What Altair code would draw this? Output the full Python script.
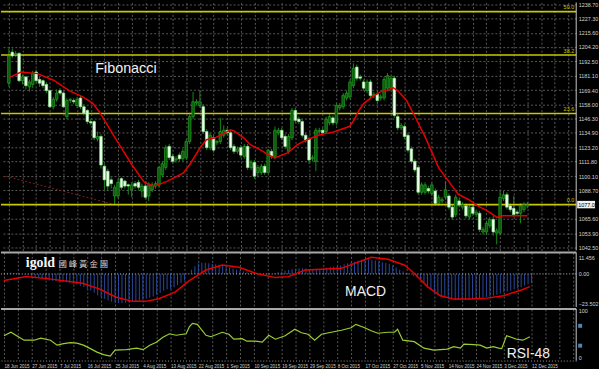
import altair as alt
import pandas as pd

# ---------------- data ----------------
bar_open = [1175,1200,1198,1199,1177,1180,1172,1174,1184,1178,
            1177,1174,1169,1156,1162,1169,1167,1148,1161,1161,
            1157,1163,1156,1153,1144,1144,1130,1132,1108,1104,
            1097,1084,1084,1098,1096,1093,1089,1094,1095,1088,
            1092,1084,1089,1092,1093,1101,1107,1124,1116,1113,
            1117,1114,1115,1128,1148,1159,1157,1156,1136,1123,
            1131,1127,1128,1133,1137,1135,1124,1120,1123,1116,
            1124,1107,1111,1103,1103,1108,1103,1120,1116,1135,
            1137,1132,1120,1131,1153,1146,1144,1133,1130,1114,
            1112,1136,1137,1136,1143,1147,1143,1155,1156,1163,
            1164,1173,1188,1180,1176,1169,1176,1165,1166,1163,
            1163,1171,1171,1179,1148,1139,1140,1133,1122,1112,
            1107,1087,1087,1090,1086,1088,1078,1080,1083,1084,
            1075,1069,1080,1075,1076,1067,1075,1069,1070,1055,
            1055,1060,1065,1054,1054,1082,1085,1076,1074,1071,
            1070,1073,1076]
bar_high = [1203,1203,1201,1200,1182,1181,1178,1185,1186,1180,
            1178,1176,1170,1164,1170,1171,1168,1163,1163,1163,
            1164,1165,1158,1154,1146,1145,1136,1134,1110,1106,
            1099,1093,1098,1099,1097,1094,1095,1096,1097,1094,
            1096,1095,1095,1096,1108,1112,1125,1126,1118,1116,
            1119,1122,1130,1150,1168,1162,1169,1158,1138,1135,
            1133,1129,1147,1141,1139,1137,1126,1124,1125,1126,
            1126,1113,1113,1109,1110,1110,1122,1122,1140,1139,
            1139,1134,1134,1155,1155,1148,1146,1135,1132,1117,
            1139,1139,1139,1148,1150,1149,1159,1159,1167,1169,
            1178,1191,1190,1182,1178,1178,1178,1168,1168,1166,
            1180,1183,1181,1181,1150,1143,1142,1135,1124,1114,
            1109,1095,1095,1092,1095,1090,1085,1083,1096,1086,
            1077,1085,1082,1079,1078,1077,1077,1073,1072,1059,
            1064,1067,1068,1058,1088,1088,1087,1078,1084,1073,
            1078,1079,1079]
bar_low = [1172,1195,1196,1176,1174,1170,1168,1171,1175,1172,
           1171,1167,1155,1154,1160,1165,1155,1146,1159,1158,
           1155,1154,1149,1142,1141,1129,1128,1106,1089,1088,
           1090,1077,1082,1089,1090,1085,1083,1090,1089,1083,
           1081,1080,1087,1090,1091,1099,1105,1113,1110,1111,
           1112,1112,1113,1126,1146,1157,1155,1134,1121,1121,
           1119,1125,1126,1131,1133,1121,1118,1118,1115,1114,
           1105,1105,1098,1099,1101,1101,1102,1114,1114,1133,
           1129,1122,1118,1129,1143,1142,1131,1127,1110,1112,
           1104,1134,1133,1134,1141,1141,1141,1153,1154,1161,
           1162,1171,1177,1177,1169,1167,1163,1163,1159,1161,
           1161,1169,1169,1147,1137,1137,1130,1119,1110,1103,
           1085,1085,1085,1086,1084,1076,1076,1078,1081,1073,
           1065,1067,1075,1073,1066,1065,1068,1067,1055,1053,
           1053,1058,1052,1045,1052,1080,1073,1071,1067,1068,
           1062,1071,1074]
bar_close = [1197,1197,1199,1177,1180,1173,1176,1183,1177,1175,
             1173,1169,1156,1162,1167,1167,1156,1161,1162,1160,
             1162,1156,1151,1144,1143,1131,1132,1109,1097,1092,
             1094,1091,1095,1091,1092,1092,1093,1092,1091,1092,
             1083,1093,1093,1094,1107,1110,1123,1115,1112,1114,
             1114,1120,1128,1148,1160,1160,1160,1136,1123,1133,
             1121,1128,1136,1137,1135,1123,1120,1122,1117,1124,
             1107,1111,1100,1107,1108,1103,1121,1116,1137,1137,
             1131,1124,1132,1153,1145,1144,1133,1129,1113,1115,
             1137,1137,1135,1146,1148,1143,1157,1157,1165,1167,
             1176,1187,1179,1179,1171,1176,1165,1166,1161,1164,
             1178,1181,1179,1149,1139,1141,1132,1121,1112,1105,
             1087,1093,1093,1088,1093,1078,1083,1081,1089,1075,
             1067,1083,1077,1077,1068,1075,1070,1071,1057,1057,
             1062,1065,1055,1056,1083,1085,1075,1073,1069,1070,
             1076,1077,1077]

ma_bar = [0, 3.6, 8.4, 13.1, 17.9, 21.7, 24.6, 26.5, 31.2, 36, 39.8, 42.7, 46.5,
          51.2, 53.1, 56, 57.9, 60.3, 63.1, 65, 66, 68.9, 70.8, 73.6, 76, 77.9,
          81.7, 84.6, 87.4, 91.2, 95, 97.9, 99.8, 101.2, 102.7, 104.1, 106.5,
          108.9, 110.8, 112.7, 114.1, 116.5, 119.3, 122.2, 126, 128.9, 131.7,
          134.6, 137.4, 140.3, 143.1, 144.6, 152]
ma_val = [1179.5, 1184, 1182.7, 1177.4, 1168.6, 1164, 1158.7, 1152, 1130.7, 1109.4,
          1094.7, 1092, 1096, 1102.7, 1109.6, 1122.7, 1129.4, 1130.7, 1134.7, 1137.4,
          1136.5, 1130.7, 1125.4, 1121.4, 1117.4, 1114.7, 1118.7, 1125.4, 1129.4,
          1133.4, 1135.5, 1138.2, 1140, 1145.4, 1153.4, 1158.7, 1164, 1168, 1169.4,
          1171.3, 1168.6, 1161.4, 1146.7, 1130.7, 1106.7, 1096, 1085.4, 1081.4, 1076,
          1072, 1066.7, 1068, 1068]

trend_bar = [-0.86, 31.0]
trend_val = [1100.0, 1077.0]

fib_names = ["50.0", "38.2", "23.6", "0.0"]
fib_prices = [1232.7, 1197.7, 1150.5, 1077.0]

price_ticks = [1238.70, 1227.30, 1215.60, 1204.20, 1192.50, 1181.10, 1169.40, 1158.00,
               1146.30, 1134.90, 1123.20, 1111.80, 1100.10, 1088.70, 1065.60, 1053.90, 1042.50]
cur_price = 1077.05

macd_hist = [0.5, 0.7, 0.9, 0.6, 0.3, 0.0, -0.4, -0.9, -1.8, -2.2,
             -2.8, -3.3, -4.0, -4.7, -4.9, -5.1, -5.4, -5.7, -5.9, -6.3,
             -6.9, -7.6, -8.5, -9.4, -10.5, -11.8, -13.4, -15.2, -16.5, -17.7,
             -18.8, -19.8, -20.4, -20.7, -20.7, -20.5, -20.3, -20.0, -19.5, -19.0,
             -18.3, -17.6, -17.0, -16.0, -14.8, -13.5, -12.0, -11.0, -10.6, -9.5,
             -8.0, -6.5, -4.7, 0.5, 3.0, 5.5, 7.5, 8.0, 8.0, 7.6,
             7.2, 6.8, 6.5, 6.2, 5.5, 4.6, 3.8, 3.0, 2.4, 1.8,
             1.2, 0.8, 0.5, 0.3, 0.2, 0.0, 0.2, 0.0, 0.6, 1.2,
             1.8, 2.4, 2.8, 3.4, 3.8, 4.0, 4.0, 3.9, 3.5, 3.1,
             3.2, 3.3, 3.8, 4.4, 4.9, 5.3, 5.6, 6.0, 6.8, 7.5,
             8.2, 8.7, 9.4, 10.0, 10.4, 10.2, 9.9, 9.6, 9.0, 8.4,
             7.8, 7.2, 6.0, 4.6, 3.0, 1.8, 0.8, 0.0, -1.2, -2.6,
             -4.2, -6.4, -9.5, -11.8, -13.6, -15.2, -16.2, -17.0, -17.6, -18.0,
             -18.3, -18.3, -18.2, -18.1, -18.0, -17.9, -17.6, -17.2, -16.8, -16.4,
             -16.0, -15.4, -14.8, -14.0, -13.0, -12.5, -11.8, -11.0, -10.2, -9.4,
             -8.4, -7.4, -6.6]

sig_bar = [0, 6.5, 13, 22.7, 27.4, 32.2, 37, 40.8, 44.6, 49.3, 53.4, 58.2, 62.9, 67.7,
           72.5, 78.2, 82, 86.8, 91.5, 97.2, 101, 105.8, 110.6, 115.3, 118.2, 122,
           125.8, 129.6, 134.4, 139.1, 143.9, 148.7, 151.5]
sig_val = [-4.7, -1.8, -3.5, -6.6, -10.6, -16.4, -19.5, -19.5, -17.6, -12.9, -4.7, 2.8,
           6.4, 4.7, 0.5, -2.6, -1.9, 2.8, 3.3, 4.0, 7.5, 11.8, 10.4, 6.4, 0.5, -9.0,
           -15.5, -17.9, -17.9, -17.2, -15.5, -11.8, -9.0]

rsi_bar = [0, 2, 3.9, 5.8, 8.7, 10.6, 13.4, 15.3, 17.2, 19.1, 21, 22.9, 24.9, 26.8,
           28.7, 30.6, 32, 35.3, 38.2, 40.1, 42, 43.9, 45.8, 47.7, 49.6, 52.5,
           53.4, 54.3, 55.7, 58.2, 59.6, 62.9, 64.8, 66.2, 68.6, 70, 72.5, 74.4, 76.3,
           78.2, 81, 83.8, 85.7, 87.6, 89.5, 91.5, 94.3, 97.2, 100, 101.4, 103.9,
           105.8, 107.7, 110.6, 112.5, 113.4, 114.9, 118.2, 121, 123.9, 127.7, 129.6,
           131.5, 132.5, 135.3, 137.2, 139.1, 141, 142.5, 143.4, 144.8, 147.7, 149.5,
           151.5]
rsi_val = [50, 57, 49, 41, 41, 45, 41, 31, 34, 36, 35, 31, 24, 17, 12, 9, 21, 22, 25,
           22, 31, 37, 47, 54, 51, 54,
           68, 75, 73, 51, 48, 57, 53, 43, 44, 39, 39, 37, 51, 43, 50, 63, 56, 53, 41,
           53, 57, 61, 66, 73, 66, 60, 55, 57, 57, 63, 41, 38, 25, 21, 23, 28, 25, 33,
           32, 31, 25, 28, 25, 24, 50, 43, 41, 48]
rsi_levels = [70, 30]

date_labels = ["18 Jun 2015", "27 Jun 2015", "7 Jul 2015", "16 Jul 2015", "25 Jul 2015",
               "4 Aug 2015", "13 Aug 2015", "22 Aug 2015", "1 Sep 2015", "10 Sep 2015",
               "19 Sep 2015", "29 Sep 2015", "8 Oct 2015", "17 Oct 2015", "27 Oct 2015",
               "5 Nov 2015", "14 Nov 2015", "24 Nov 2015", "3 Dec 2015", "12 Dec 2015"]

# ---------------- tables ----------------
n = len(bar_close)
bars = pd.DataFrame({"bar": list(range(n)), "open": bar_open, "high": bar_high,
                     "low": bar_low, "close": bar_close})
ma_df = pd.DataFrame({"bar": ma_bar, "v": ma_val})
trend_df = pd.DataFrame({"bar": trend_bar, "v": trend_val})
fib_df = pd.DataFrame({"name": fib_names, "p": fib_prices})
cur_df = pd.DataFrame({"p": [cur_price], "lo": [cur_price - 3.0], "hi": [cur_price + 3.0]})
hist_df = pd.DataFrame({"bar": list(range(len(macd_hist))), "h": macd_hist})
sig_df = pd.DataFrame({"bar": sig_bar, "v": sig_val})
rsi_df = pd.DataFrame({"bar": rsi_bar, "v": rsi_val})
lvl_df = pd.DataFrame({"lvl": rsi_levels})

# ---------------- styling ----------------
W = 580
STEP = 3.5
XDOM = [-3 / STEP, (W - 3) / STEP]
GRID = "#5a5a5a"
LBL = "#d2d2d2"
NARROW = "Liberation Sans Narrow, Arial Narrow, Liberation Sans, sans-serif"
SANS = "Liberation Sans, Arial, sans-serif"
grid_vals = list(range(0, 165, 4))

xs = alt.Scale(domain=XDOM, nice=False, zero=False)
ys_main = alt.Scale(domain=[1040.06, 1240.06], nice=False, zero=False)
ys_macd = alt.Scale(domain=[-23.502, 15.3], nice=False, zero=False)
ys_rsi = alt.Scale(domain=[0, 104], nice=False, zero=False)

AX_X_TOP = alt.Axis(values=grid_vals, grid=True, gridColor=GRID, gridDash=[2, 2],
                    labels=False, ticks=False, domain=False, title=None)

labels_js = "[" + ",".join("'" + d + "'" for d in date_labels) + "]"
label_expr = ("datum.value % 8 == 0 && datum.value / 8 < " + str(len(date_labels)) +
              " ? " + labels_js + "[datum.value / 8] : ''")
AX_X_BOT = alt.Axis(
    values=grid_vals, grid=True, gridColor=GRID, gridDash=[2, 2],
    labelExpr=label_expr,
    labelAlign="left", labelColor=LBL, labelFont=SANS, labelFontSize=4.6,
    labelPadding=3.5, labelFlush=False, labelOverlap=False, ticks=False,
    domain=True, domainColor="#9a9a9a", domainDash=[1, 2], title=None)

AX_Y_MAIN = alt.Axis(orient="right", values=price_ticks, format=".2f", grid=True,
                     gridColor=GRID, gridDash=[2, 2], labelColor=LBL,
                     labelFont=NARROW, labelFontSize=5.5, ticks=False, domain=False,
                     labelPadding=2, title=None, labelOverlap=False, labelFlush=False)
AX_Y_MACD = alt.Axis(orient="right", values=[11.456, 0, -23.502],
                     labelExpr="datum.value == 0 ? '0.00' : format(datum.value, '.3f')",
                     grid=False, labelColor=LBL, labelFont=NARROW, labelFontSize=5.5,
                     ticks=False, domain=False, labelPadding=2, title=None,
                     labelFlush=True, labelOverlap=False)
AX_Y_RSI = alt.Axis(orient="right", values=[100, 0], grid=False, labelColor=LBL,
                    labelFont=NARROW, labelFontSize=5.5, ticks=False, domain=False,
                    labelPadding=2, title=None, labelFlush=True, labelOverlap=False)


def XT(field="bar"):
    return alt.X(field + ":Q", scale=xs, axis=AX_X_TOP)


def XB(field="bar"):
    return alt.X(field + ":Q", scale=xs, axis=AX_X_BOT)


def YM(field):
    return alt.Y(field + ":Q", scale=ys_main, axis=AX_Y_MAIN)


def YD(field):
    return alt.Y(field + ":Q", scale=ys_macd, axis=AX_Y_MACD)


def YR(field):
    return alt.Y(field + ":Q", scale=ys_rsi, axis=AX_Y_RSI)


def one(col, val):
    return pd.DataFrame({col: [val]})


# ---------------- main price panel ----------------
wick = alt.Chart(bars).mark_rule(color="#178a17", strokeWidth=1).encode(
    x=XT(), y=YM("low"), y2="high:Q")

body = alt.Chart(bars).mark_bar(size=2.6, strokeWidth=0.7).encode(
    x=XT(), y=YM("open"), y2="close:Q",
    fill=alt.condition("datum.close >= datum.open", alt.value("#0b5a0b"), alt.value("#f2fff0")),
    stroke=alt.condition("datum.close >= datum.open", alt.value("#25a025"), alt.value("#8fe08f")),
)

trend = alt.Chart(trend_df).mark_line(color="#8b1c1c", strokeDash=[2, 2], strokeWidth=1).encode(
    x=XT(), y=YM("v"))

fib = alt.Chart(fib_df).mark_rule(color="#c8c800", strokeWidth=1.6).encode(y=YM("p"))

fib_txt = alt.Chart(fib_df).mark_text(color="#c8c800", fontSize=5.5, font=NARROW,
                                      align="right", baseline="bottom", dy=-1.5).encode(
    x=alt.value(W - 2), y=YM("p"), text="name:N")

ma = alt.Chart(ma_df).mark_line(color="#e60000", strokeWidth=1.5).encode(x=XT(), y=YM("v"))

fibo_title = alt.Chart(one("t", "Fibonacci")).mark_text(
    color="#f0f0f0", fontSize=14.5, font=SANS, align="left", baseline="middle").encode(
    x=alt.value(95), y=alt.value(67), text="t:N")

cur_box = alt.Chart(cur_df).mark_rect(fill="#f2f2f2").encode(
    x=alt.value(W + 1), x2=alt.value(W + 19), y=YM("lo"), y2="hi:Q")
cur_txt = alt.Chart(cur_df).mark_text(color="black", fontSize=5.5, font=NARROW,
                                      align="left", baseline="middle").encode(
    x=alt.value(W + 2), y=YM("p"), text=alt.Text("p:Q", format=".2f"))

border_main = alt.Chart(one("a", 0)).mark_rule(color="#c8c8c8").encode(x=alt.value(W))

main = alt.layer(wick, trend, fib, fib_txt, body, ma, fibo_title, cur_box, cur_txt,
                 border_main).properties(width=W, height=250)

# ---------------- MACD panel ----------------
hist = alt.Chart(hist_df).mark_rule(color="#2b4a9c", strokeWidth=1).encode(
    x=XT(), y=YD("h"), y2=alt.datum(0))
zero = alt.Chart(one("z", 0)).mark_rule(color="#bdbdbd", strokeDash=[1, 2]).encode(y=YD("z"))
sig = alt.Chart(sig_df).mark_line(color="#e60000", strokeWidth=1.5).encode(x=XT(), y=YD("v"))
sep1 = alt.Chart(one("a", 0)).mark_rule(color="#a8a8a8", strokeWidth=2).encode(y=alt.value(0))
logo = alt.Chart(one("t", "igold")).mark_text(
    color="#f4f4f4", fontSize=14, font="Liberation Serif, DejaVu Serif, serif",
    fontWeight="bold", align="left", baseline="middle").encode(
    x=alt.value(25), y=alt.value(11), text="t:N")
logo_cn = alt.Chart(one("t", "國 峰 黃 金 團")).mark_text(
    color="#d0d0d0", fontSize=8.5, font="Noto Sans CJK TC", align="left",
    baseline="middle").encode(x=alt.value(58), y=alt.value(12), text="t:N")
macd_txt = alt.Chart(one("t", "MACD")).mark_text(
    color="#f0f0f0", fontSize=14, font=SANS, align="left", baseline="middle").encode(
    x=alt.value(347), y=alt.value(40), text="t:N")
border_macd = alt.Chart(one("a", 0)).mark_rule(color="#c8c8c8").encode(x=alt.value(W))

macd = alt.layer(hist, zero, sig, sep1, logo, logo_cn, macd_txt, border_macd).properties(
    width=W, height=55)

# ---------------- RSI panel ----------------
lvl = alt.Chart(lvl_df).mark_rule(color="#54707e", strokeWidth=1).encode(
    x=XB(), y=YR("lvl"))
lvl_mark = alt.Chart(lvl_df).mark_square(size=16, color="#4a86b8", opacity=1).encode(
    x=alt.value(W + 4), y=YR("lvl"))
rsi_line = alt.Chart(rsi_df).mark_line(color="#9acd32", strokeWidth=1.2).encode(
    x=XB(), y=YR("v"))
sep2 = alt.Chart(one("a", 0)).mark_rule(color="#a8a8a8", strokeWidth=2).encode(y=alt.value(0))
rsi_txt = alt.Chart(one("t", "RSI-48")).mark_text(
    color="#f0f0f0", fontSize=14, font=SANS, align="left", baseline="middle").encode(
    x=alt.value(510), y=alt.value(45.5), text="t:N")
border_rsi = alt.Chart(one("a", 0)).mark_rule(color="#c8c8c8").encode(x=alt.value(W))

rsi = alt.layer(lvl, rsi_line, sep2, rsi_txt, lvl_mark, border_rsi).properties(
    width=W, height=52)

chart = alt.vconcat(main, macd, rsi, spacing=0).configure(
    background="black", padding=0).configure_view(strokeWidth=0)

chart.save("out.html", embed_options={"renderer": "svg", "actions": False})
